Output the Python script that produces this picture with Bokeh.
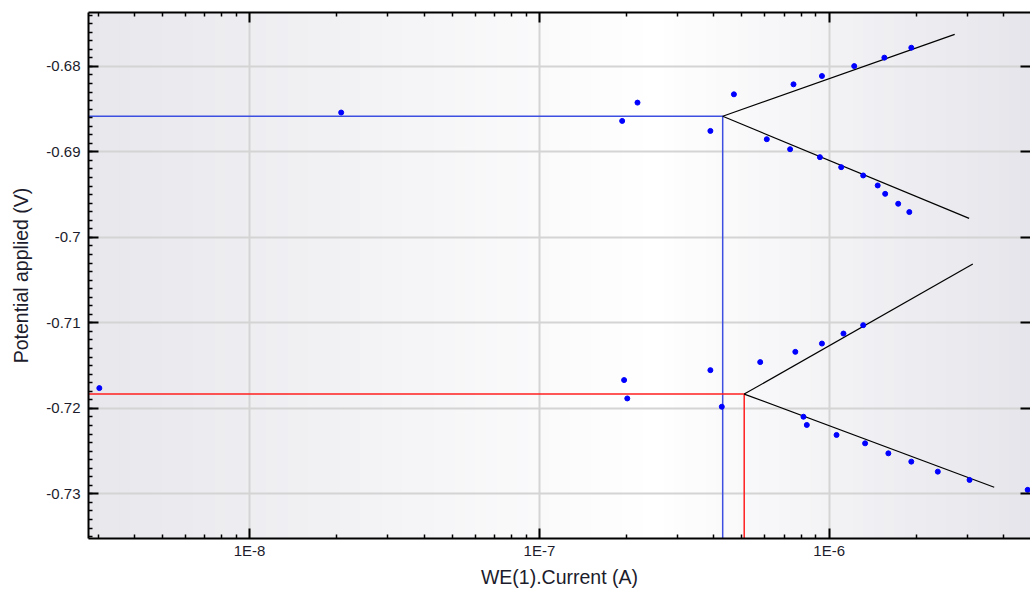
import numpy as np
from bokeh.plotting import figure
from bokeh.models import (LogAxis, LinearAxis, FixedTicker, CustomJSTickFormatter,
                          BoxAnnotation, Range1d)
from bokeh.embed import file_html
from bokeh.resources import INLINE

# ---- data ----
current = [3.03e-9, 2.07e-8, 1.93e-7, 2.18e-7, 3.89e-7, 4.69e-7, 6.09e-7, 7.33e-7,
           7.53e-7, 9.29e-7, 9.44e-7, 1.10e-6, 1.22e-6, 1.31e-6, 1.47e-6, 1.55e-6,
           1.56e-6, 1.73e-6, 1.89e-6, 1.92e-6,
           1.96e-7, 2.01e-7, 3.89e-7, 4.26e-7, 5.78e-7, 7.64e-7, 8.15e-7, 8.37e-7,
           9.44e-7, 1.06e-6, 1.12e-6, 1.31e-6, 1.33e-6, 1.60e-6, 1.92e-6, 2.37e-6,
           3.05e-6, 4.84e-6]
potential = [-0.71763, -0.68540, -0.68638, -0.68424, -0.68755, -0.68327, -0.68852, -0.68969,
             -0.68210, -0.69062, -0.68113, -0.69179, -0.67997, -0.69276, -0.69393, -0.67898,
             -0.69491, -0.69607, -0.69704, -0.67782,
             -0.71669, -0.71884, -0.71553, -0.71981, -0.71459, -0.71339, -0.72098, -0.72194,
             -0.71242, -0.72311, -0.71125, -0.71027, -0.72409, -0.72526, -0.72623, -0.72740,
             -0.72837, -0.72953]

# corrosion points (icorr, Ecorr) for the two fits
icorr = [4.29e-7, 5.09e-7]
ecorr = [-0.68584, -0.71833]
# Tafel line end points (anodic, cathodic) for each fit
anodic_end_i = [2.71e-6, 3.13e-6]
anodic_end_e = [-0.67626, -0.70311]
cathodic_end_i = [3.04e-6, 3.71e-6]
cathodic_end_e = [-0.69778, -0.72923]
fit_colors = ["#3d4fe0", "#ff2020"]

x_major_ticks = [1e-8, 1e-7, 1e-6]
y_major_ticks = [-0.68, -0.69, -0.70, -0.71, -0.72, -0.73]

X_START, X_END = 2.78e-9, 4.95e-6
Y_START, Y_END = -0.73522, -0.6737

FONT = "Liberation Sans"
TXT = "#1c1c2c"

p = figure(width=1030, height=590, x_axis_type="log",
           x_range=Range1d(X_START, X_END), y_range=Range1d(Y_START, Y_END),
           output_backend="svg", toolbar_location=None,
           min_border_left=88, min_border_top=12, min_border_right=0, min_border_bottom=51,
           background_fill_color="white", border_fill_color="white",
           outline_line_color=None,
           x_axis_label="WE(1).Current (A)", y_axis_label="Potential applied (V)")

# background gradient (grey -> white -> grey), drawn as vertical strips
N = 90
lo, hi = np.log10(X_START), np.log10(X_END)
edges = 10 ** np.linspace(lo, hi, N + 1)
c_left = np.array([231, 231, 236])
c_right = np.array([229, 229, 235])
white = np.array([255, 255, 255])
peak = 0.6
for i in range(N):
    f = (i + 0.5) / N
    if f < peak:
        t = f / peak
        c = c_left + (white - c_left) * t
    else:
        t = (f - peak) / (1 - peak)
        c = white + (c_right - white) * t
    col = "#%02x%02x%02x" % tuple(int(round(v)) for v in c)
    left = None if i == 0 else edges[i]
    right = None if i == N - 1 else edges[i + 1] * 10 ** (0.5 * (hi - lo) / N)
    p.add_layout(BoxAnnotation(left=left, right=right, fill_color=col, fill_alpha=1.0,
                               line_color=None, level="image"))

x_minor = [m * 10.0 ** e for e in range(-9, -5) for m in range(2, 10)]
y_minor = [round(v, 4) for v in np.arange(-0.740, -0.6695, 0.001)]
xticker = FixedTicker(ticks=x_major_ticks, minor_ticks=x_minor)
yticker = FixedTicker(ticks=y_major_ticks, minor_ticks=y_minor)

xfmt = CustomJSTickFormatter(code="return '1E' + Math.round(Math.log10(tick));")
yfmt = CustomJSTickFormatter(code="return String(parseFloat(tick.toFixed(3)));")
blankfmt = CustomJSTickFormatter(code="return '.';")

def style_axis(ax, labels=True):
    ax.axis_line_width = 2
    ax.axis_line_color = "black"
    ax.major_tick_in = 10
    ax.major_tick_out = 0
    ax.minor_tick_in = 4
    ax.minor_tick_out = 0
    ax.major_tick_line_width = 2
    ax.minor_tick_line_width = 1.5
    ax.major_tick_line_color = "black"
    ax.minor_tick_line_color = "black"
    if labels:
        ax.major_label_text_font = FONT
        ax.major_label_text_font_size = "15px"
        ax.major_label_text_color = TXT
        ax.axis_label_text_font = FONT
        ax.axis_label_text_font_size = "19.5px"
        ax.axis_label_text_font_style = "normal"
        ax.axis_label_text_color = TXT
    else:
        ax.formatter = blankfmt
        ax.major_label_text_font_size = "1px"
        ax.major_label_text_alpha = 0
        ax.major_label_standoff = 0

xa = p.xaxis[0]
xa.ticker = xticker
xa.formatter = xfmt
style_axis(xa)
xa.major_label_standoff = 3
xa.axis_label_standoff = 4

ya = p.yaxis[0]
ya.ticker = yticker
ya.formatter = yfmt
style_axis(ya)
ya.major_label_standoff = 8
ya.axis_label_standoff = 11

top = LogAxis(ticker=FixedTicker(ticks=x_major_ticks, minor_ticks=x_minor))
style_axis(top, labels=False)
p.add_layout(top, "above")

right = LinearAxis(ticker=FixedTicker(ticks=y_major_ticks, minor_ticks=[]))
style_axis(right, labels=False)
right.axis_line_color = None
p.add_layout(right, "right")

p.xgrid.ticker = FixedTicker(ticks=x_major_ticks)
p.ygrid.ticker = FixedTicker(ticks=y_major_ticks)
for g in (p.xgrid[0], p.ygrid[0]):
    g.grid_line_color = "#d4d4d4"
    g.grid_line_width = 2

# corrosion reference lines
for k in range(2):
    p.line([X_START, icorr[k], icorr[k]], [ecorr[k], ecorr[k], Y_START],
           line_color=fit_colors[k], line_width=1.5)

# Tafel fit lines
for k in range(2):
    p.line([icorr[k], anodic_end_i[k]], [ecorr[k], anodic_end_e[k]],
           line_color="black", line_width=1.2)
    p.line([icorr[k], cathodic_end_i[k]], [ecorr[k], cathodic_end_e[k]],
           line_color="black", line_width=1.2)

p.scatter(current, potential, size=5, fill_color="#0000ff", line_color="#0000ff")

open("out.html", "w").write(file_html(p, INLINE))
